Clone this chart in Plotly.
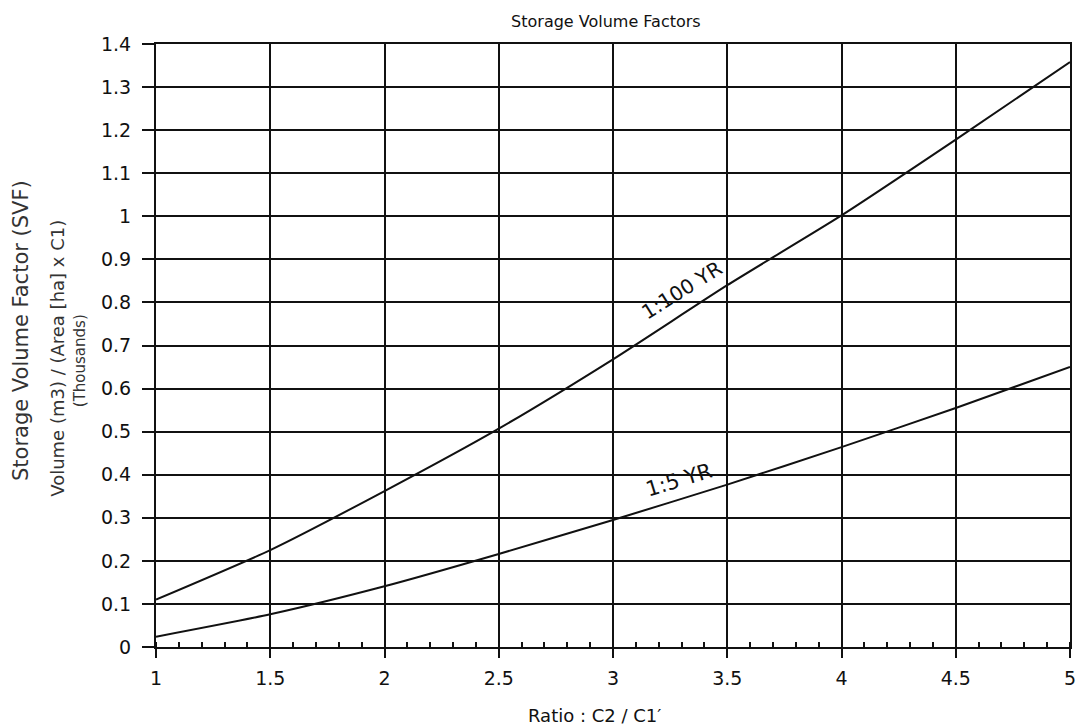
import plotly.graph_objects as go

# Ratio C2 / C1' values where the curves are sampled
ratio = [1.0, 1.5, 2.0, 2.5, 3.0, 3.5, 4.0, 4.5, 5.0]

# Storage volume factor (thousands) for each design storm
svf_100yr = [0.110, 0.225, 0.362, 0.507, 0.668, 0.840, 1.002, 1.178, 1.358]
svf_5yr = [0.024, 0.076, 0.141, 0.216, 0.295, 0.377, 0.464, 0.555, 0.650]

x_ticks = [1, 1.5, 2, 2.5, 3, 3.5, 4, 4.5, 5]

FONT = "DejaVu Sans"
INK = "#111111"

fig = go.Figure()
for ys in (svf_100yr, svf_5yr):
    fig.add_trace(go.Scatter(
        x=ratio, y=ys, mode="lines",
        line=dict(color=INK, width=2, shape="spline", smoothing=0.6),
        showlegend=False, hoverinfo="skip",
    ))

fig.update_layout(
    width=1080, height=726,
    margin=dict(l=156, r=10, t=44, b=79, autoexpand=False),
    paper_bgcolor="white", plot_bgcolor="white",
    font=dict(family=FONT, color=INK, size=16),
    title=dict(text="Storage Volume Factors", x=0.561, xanchor="center",
               xref="container", yref="container",
               y=0.97, yanchor="middle", font=dict(size=16, family=FONT)),
    showlegend=False,
)

fig.update_xaxes(
    range=[1, 5], tickvals=x_ticks, ticktext=[f"{v:g}" for v in x_ticks],
    showgrid=True, gridcolor=INK, gridwidth=2, automargin=False,
    showline=True, linecolor=INK, linewidth=2, mirror=True,
    ticks="outside", ticklen=9, tickwidth=2, tickcolor=INK,
    tickfont=dict(size=19), zeroline=False, ticklabelstandoff=4,
    minor=dict(dtick=0.1, tick0=1, ticks="inside", ticklen=5, tickwidth=2,
               tickcolor=INK, showgrid=False),
)

fig.update_yaxes(
    range=[0, 1.4], dtick=0.1, tick0=0, automargin=False,
    showgrid=True, gridcolor=INK, gridwidth=2,
    showline=True, linecolor=INK, linewidth=2, mirror=True,
    ticks="outside", ticklen=12, tickwidth=2, tickcolor=INK,
    tickfont=dict(size=19), zeroline=False, ticklabelstandoff=7,
)

# Horizontal axis title
fig.add_annotation(text="Ratio : C2 / C1\u2032", xref="paper", yref="paper",
                   x=0.48, y=-0.114, showarrow=False,
                   xanchor="center", yanchor="middle",
                   font=dict(size=18, family=FONT, color=INK))

# Vertical axis titles, three lines
for text, xs, yp, size in [
    ("Storage Volume Factor (SVF)", -135, 0.524, 21),
    ("Volume (m3) / (Area [ha] x C1)", -98, 0.478, 18),
    ("(Thousands)", -76, 0.474, 15),
]:
    fig.add_annotation(text=text, xref="paper", yref="paper", x=0, y=yp,
                       xshift=xs, showarrow=False, textangle=-90,
                       xanchor="center", yanchor="middle",
                       font=dict(size=size, family=FONT, color="#333333"))

# Curve labels written along the lines
fig.add_annotation(text="1:100 YR", x=3.32, y=0.80, xref="x", yref="y",
                   showarrow=False, textangle=-32, yshift=12, xshift=-4,
                   font=dict(size=20, family=FONT, color=INK))
fig.add_annotation(text="1:5 YR", x=3.29, y=0.365, xref="x", yref="y",
                   showarrow=False, textangle=-17, yshift=10,
                   font=dict(size=21, family=FONT, color=INK))

fig.write_html("out.html")
